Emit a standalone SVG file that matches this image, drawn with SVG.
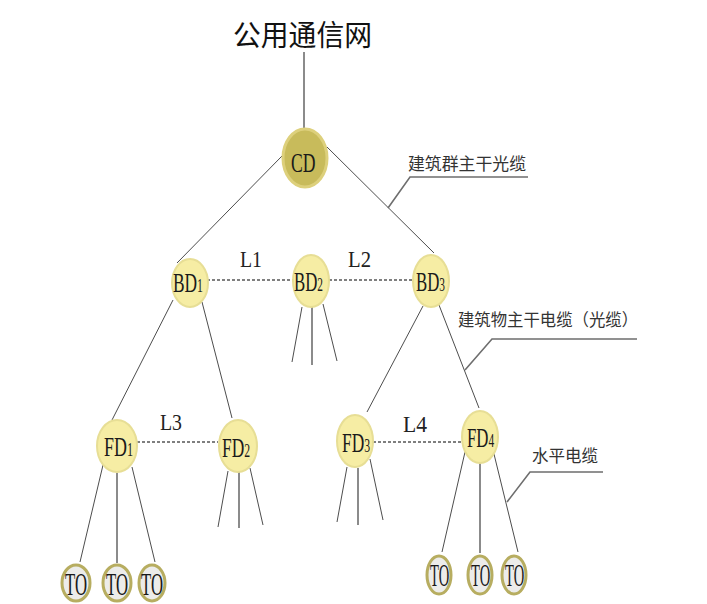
<svg xmlns="http://www.w3.org/2000/svg" width="707" height="604" viewBox="0 0 707 604">
<style>
.ln{stroke:#4d4d4d;stroke-width:1;fill:none}
.ln2{stroke:#6e6e6e;stroke-width:1.6;fill:none}
.dash{stroke:#555;stroke-width:1.3;stroke-dasharray:3 2;fill:none}
.yl{fill:#f6eda4;stroke:#e7de95;stroke-width:2}
.cd{fill:#c8bb5b;stroke:#ddd07c;stroke-width:3}
.to{fill:#ececea;stroke:#b7ad60;stroke-width:3}
.t{font-family:"Liberation Serif",serif;fill:#1a1a1a;font-size:28px}
.s{font-size:19px}
.tt{font-family:"Liberation Serif",serif;fill:#1a1a1a;font-size:31px}
.cn{font-family:"Noto Sans CJK SC",sans-serif;fill:#333;font-size:17px}
.L{font-family:"Liberation Serif",serif;fill:#222;font-size:24px}
</style>
<rect width="707" height="604" fill="#fff"/>
<text x="233" y="46" font-family="Noto Sans CJK SC, sans-serif" font-size="29" fill="#111" textLength="139" lengthAdjust="spacingAndGlyphs">公用通信网</text>
<g id="connectors">
<line class="ln2" x1="304" y1="52" x2="304" y2="129"/>
<line class="ln" x1="282" y1="156" x2="177" y2="263"/>
<line class="ln" x1="327" y1="147" x2="434" y2="253"/>
<line class="dash" x1="207" y1="280" x2="293" y2="280"/>
<line class="dash" x1="329" y1="280" x2="413" y2="280"/>
<line class="ln" x1="302" y1="307" x2="292" y2="362"/>
<line class="ln2" x1="312" y1="307" x2="312" y2="365"/>
<line class="ln" x1="323" y1="304" x2="337" y2="361"/>
<line class="ln" x1="173" y1="300" x2="112" y2="420"/>
<line class="ln" x1="202" y1="302" x2="232" y2="418"/>
<line class="ln" x1="423" y1="306" x2="367" y2="412"/>
<line class="ln" x1="439" y1="305" x2="479" y2="408"/>
<line class="dash" x1="137" y1="442" x2="218" y2="442"/>
<line class="dash" x1="373" y1="442" x2="463" y2="442"/>
<line class="ln" x1="103" y1="465" x2="80" y2="562"/>
<line class="ln2" x1="117" y1="473" x2="117" y2="563"/>
<line class="ln" x1="132" y1="467" x2="155" y2="562"/>
<line class="ln" x1="228" y1="471" x2="218" y2="527"/>
<line class="ln2" x1="239" y1="472" x2="239" y2="528"/>
<line class="ln" x1="250" y1="468" x2="263" y2="525"/>
<line class="ln" x1="347" y1="467" x2="337" y2="522"/>
<line class="ln2" x1="358" y1="468" x2="358" y2="525"/>
<line class="ln" x1="370" y1="459" x2="383" y2="520"/>
<line class="ln" x1="465" y1="452" x2="442" y2="552"/>
<line class="ln2" x1="480" y1="463" x2="480" y2="553"/>
<line class="ln" x1="493" y1="450" x2="518" y2="552"/>
</g>
<g id="annotations">
<polyline class="ln2" points="388,208 410,177 528,177"/>
<text class="cn" x="408" y="170" textLength="118" lengthAdjust="spacingAndGlyphs">建筑群主干光缆</text>
<polyline class="ln2" points="465,370 492,339 637,339"/>
<text class="cn" x="458" y="326" textLength="180" lengthAdjust="spacingAndGlyphs">建筑物主干电缆（光缆）</text>
<polyline class="ln2" points="507,502 530,472 603,472"/>
<text class="cn" x="532" y="462" textLength="66" lengthAdjust="spacingAndGlyphs">水平电缆</text>
<text class="L" x="240" y="267" textLength="22" lengthAdjust="spacingAndGlyphs">L1</text>
<text class="L" x="348" y="267" textLength="23" lengthAdjust="spacingAndGlyphs">L2</text>
<text class="L" x="160" y="430" textLength="22" lengthAdjust="spacingAndGlyphs">L3</text>
<text class="L" x="403" y="432" textLength="24" lengthAdjust="spacingAndGlyphs">L4</text>
</g>
<g id="CD">
<ellipse class="cd" cx="305" cy="158" rx="22" ry="29"/>
<text class="t" font-size="33" transform="translate(291,172) scale(0.63,1)">CD</text>
</g>
<g id="BD1">
<ellipse class="yl" cx="190" cy="283" rx="18" ry="24"/>
<text class="t" transform="translate(173,292) scale(0.62,1)">BD<tspan class="s">1</tspan></text>
</g>
<g id="BD2">
<ellipse class="yl" cx="311" cy="281" rx="18" ry="26"/>
<text class="t" transform="translate(294,291) scale(0.6,1)">BD<tspan class="s">2</tspan></text>
</g>
<g id="BD3">
<ellipse class="yl" cx="431" cy="281" rx="18" ry="26"/>
<text class="t" transform="translate(416,291) scale(0.6,1)">BD<tspan class="s">3</tspan></text>
</g>
<g id="FD1">
<ellipse class="yl" cx="117" cy="446" rx="20" ry="26"/>
<text class="t" transform="translate(104,456) scale(0.64,1)">FD<tspan class="s">1</tspan></text>
</g>
<g id="FD2">
<ellipse class="yl" cx="238" cy="446" rx="19" ry="26"/>
<text class="t" transform="translate(222,457) scale(0.62,1)">FD<tspan class="s">2</tspan></text>
</g>
<g id="FD3">
<ellipse class="yl" cx="355" cy="441" rx="18" ry="26"/>
<text class="t" transform="translate(342,452) scale(0.62,1)">FD<tspan class="s">3</tspan></text>
</g>
<g id="FD4">
<ellipse class="yl" cx="480" cy="437" rx="18" ry="26"/>
<text class="t" transform="translate(467,447) scale(0.6,1)">FD<tspan class="s">4</tspan></text>
</g>
<g id="TO1">
<ellipse class="to" cx="76" cy="583" rx="14" ry="18"/>
<text class="tt" transform="translate(65,595) scale(0.54,1)">TO</text>
</g>
<g id="TO2">
<ellipse class="to" cx="117" cy="583" rx="14" ry="18"/>
<text class="tt" transform="translate(106,595) scale(0.54,1)">TO</text>
</g>
<g id="TO3">
<ellipse class="to" cx="152" cy="583" rx="13" ry="18"/>
<text class="tt" transform="translate(141,595) scale(0.54,1)">TO</text>
</g>
<g id="TO4">
<ellipse class="to" cx="439" cy="575" rx="12" ry="19"/>
<text class="tt" transform="translate(430,586) scale(0.47,1)">TO</text>
</g>
<g id="TO5">
<ellipse class="to" cx="480" cy="575" rx="12" ry="19"/>
<text class="tt" transform="translate(471,586) scale(0.47,1)">TO</text>
</g>
<g id="TO6">
<ellipse class="to" cx="514" cy="575" rx="12" ry="19"/>
<text class="tt" transform="translate(505,586) scale(0.47,1)">TO</text>
</g>
</svg>
